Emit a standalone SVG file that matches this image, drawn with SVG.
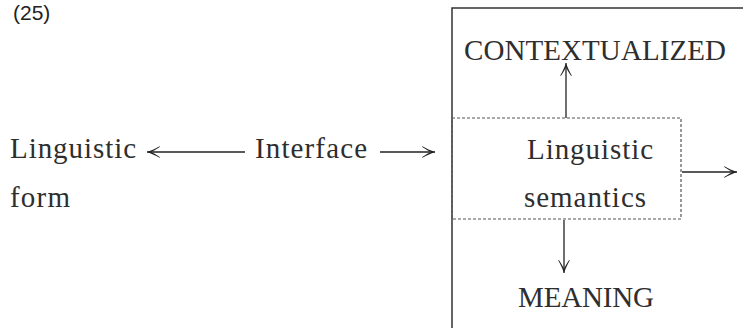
<svg xmlns="http://www.w3.org/2000/svg" width="743" height="328" viewBox="0 0 743 328">
  <style>
    .t { font-family: "Liberation Serif", "DejaVu Serif", "Times New Roman", serif; font-size: 29px; fill: #2e2e2e; }
    .num { font-family: "Liberation Sans", Arial, sans-serif; font-size: 21px; fill: #222; }
    .frame { fill: none; stroke: #333; stroke-width: 1.5; }
    .dash { fill: none; stroke: #555; stroke-width: 1.2; stroke-dasharray: 3 2; }
    .arr { fill: none; stroke: #222; stroke-width: 1.3; marker-end: url(#head); }
  </style>
  <defs>
    <marker id="head" markerUnits="userSpaceOnUse" viewBox="-14 -7 15 14" refX="0" refY="0" markerWidth="15" markerHeight="14" orient="auto">
      <path d="M0,0 C-4,-1.5 -9,-3.5 -13,-6 L-12.4,-4.8 C-9,-2.5 -6,-0.8 -4,0 C-6,0.8 -9,2.5 -12.4,4.8 L-13,6 C-9,3.5 -4,1.5 0,0 Z" fill="#222"/>
    </marker>
  </defs>

  <text class="num" x="13" y="20">(25)</text>

  <!-- outer frame, continuing past the right and bottom edges -->
  <rect class="frame" x="452" y="8" width="400" height="400"/>

  <g id="linguistic-form">
    <text class="t" x="10" y="158" textLength="126">Linguistic</text>
    <text class="t" x="10" y="207" textLength="60">form</text>
  </g>

  <g id="interface">
    <text class="t" x="255" y="158" textLength="112">Interface</text>
  </g>

  <g id="linguistic-semantics">
    <rect class="dash" x="452" y="118" width="229" height="101"/>
    <text class="t" x="527" y="159" textLength="126">Linguistic</text>
    <text class="t" x="524" y="207" textLength="122">semantics</text>
  </g>

  <g id="contextualized">
    <text class="t" x="464" y="60" textLength="262">CONTEXTUALIZED</text>
  </g>

  <g id="meaning">
    <text class="t" x="518" y="307" textLength="136">MEANING</text>
  </g>

  <g id="connectors">
    <line class="arr" x1="245" y1="152" x2="147" y2="152"/>
    <line class="arr" x1="380" y1="152" x2="435" y2="152"/>
    <line class="arr" x1="566" y1="118" x2="566" y2="63"/>
    <line class="arr" x1="564" y1="220" x2="564" y2="273"/>
    <line class="arr" x1="682" y1="172" x2="737" y2="172"/>
  </g>
</svg>
